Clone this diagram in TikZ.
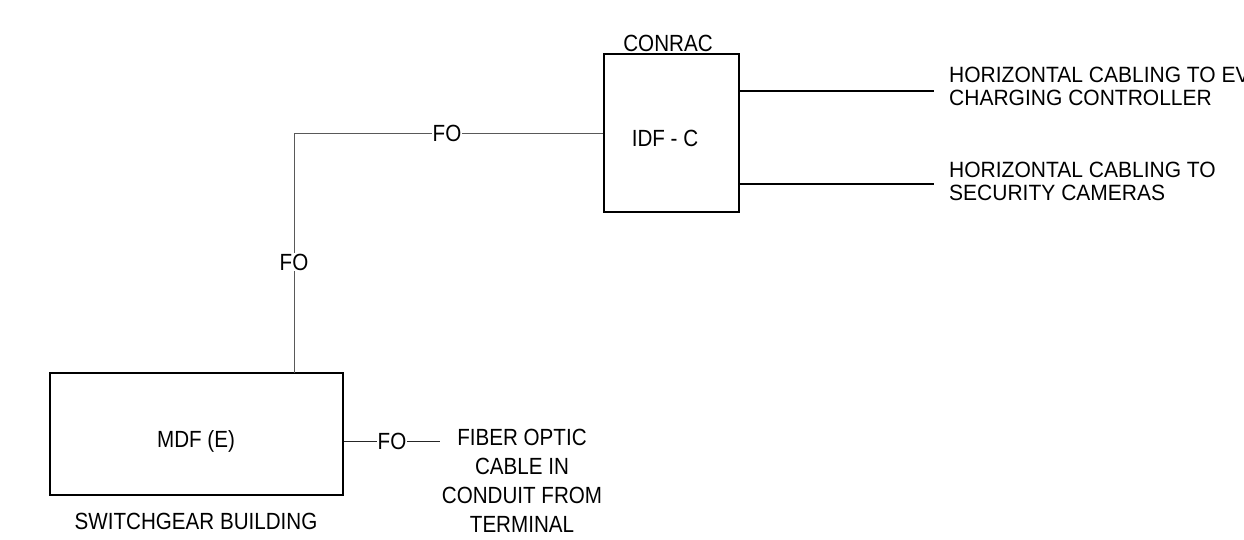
\documentclass[tikz,border=0pt]{standalone}
\usepackage{fontspec}
\setmainfont{Liberation Sans}[FakeStretch=0.88]
\newfontfamily\wideface{Liberation Sans}[FakeStretch=0.95]
\begin{document}
\begin{tikzpicture}[x=1bp,y=-1bp,
  box/.style={draw=black,line width=1.6bp,minimum width=#1,inner sep=0pt},
  fo/.style={draw=black!65,line width=0.9bp},
  hc/.style={draw=black,line width=1.6bp},
  fol/.style={fill=white,inner sep=1bp,font=\fontsize{23.5}{28}\selectfont},
  lbl/.style={font=\fontsize{23.5}{29}\selectfont,align=center,inner sep=0pt},
  wlbl/.style={font=\wideface\fontsize{22.2}{23}\selectfont,align=left,inner sep=0pt,anchor=west}]
\useasboundingbox (0,0) rectangle (1244,540);
% boxes
\node[box=135bp,minimum height=158bp] (idf) at (671.5,133) {};
\node[lbl] (idft) at (665,138) {IDF - C};
\node[lbl] (conrac) at (668,43) {CONRAC};
\node[box=293bp,minimum height=122bp] (mdf) at (196.5,434) {};
\node[lbl] (mdft) at (196,441) {MDF (E)};
\node[lbl] (sw) at (196,521) {SWITCHGEAR BUILDING};
% FO link
\coordinate (corner) at (294,133);
\coordinate (mdftop) at (294,373);
\draw[fo] (idf.west) -- (corner) -- (mdftop);
\node[fol] (fo1) at (447,133) {FO};
\node[fol] (fo2) at (294,262) {FO};
% FO out of MDF
\coordinate (foend) at (440,441);
\draw[fo,draw=black!85] (mdf.east |- foend) -- (foend);
\node[fol] (fo3) at (392,441) {FO};
\node[lbl] (fiber) at (522,481) {FIBER OPTIC\\CABLE IN\\CONDUIT FROM\\TERMINAL};
% horizontal cabling
\coordinate (h1) at (934,91);
\coordinate (h2) at (934,184);
\draw[hc] (idf.east |- h1) -- (h1);
\draw[hc] (idf.east |- h2) -- (h2);
\node[wlbl] (ev) at (949,86.5) {HORIZONTAL CABLING TO EV\\CHARGING CONTROLLER};
\node[wlbl] (cam) at (949,181.5) {HORIZONTAL CABLING TO\\SECURITY CAMERAS};
\end{tikzpicture}
\end{document}
